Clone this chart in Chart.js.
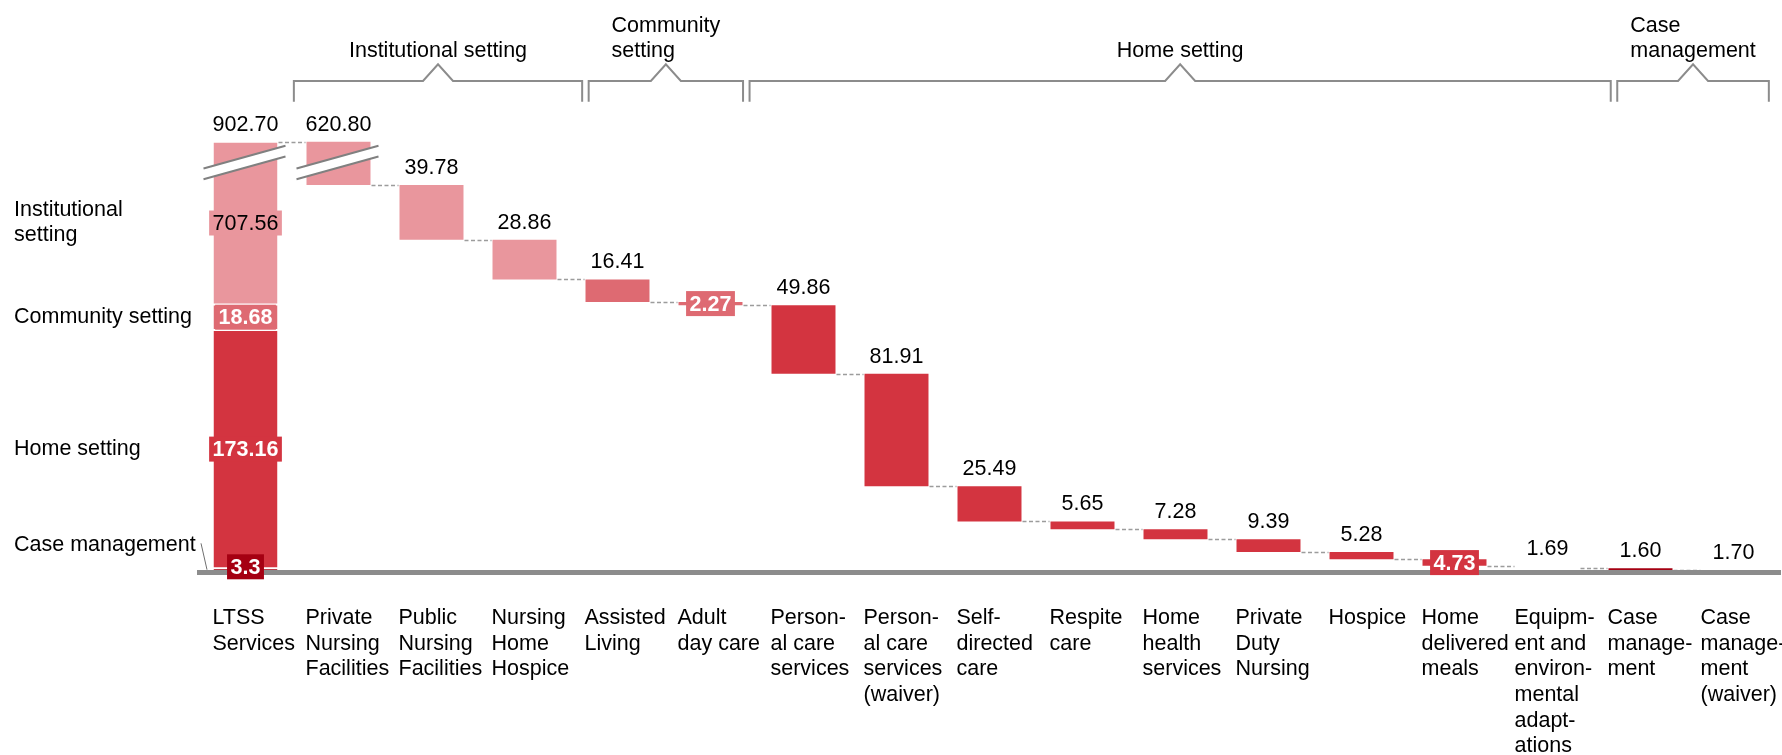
<!DOCTYPE html>
<html>
<head>
<meta charset="utf-8">
<title>LTSS spending by service</title>
<script src="https://cdn.jsdelivr.net/npm/chart.js@4.4.0/dist/chart.umd.min.js"></script>
<style>
  html, body { margin: 0; padding: 0; background: #fff; }
  #wrap { position: relative; width: 1782px; height: 755px; }
</style>
</head>
<body>
<div id="wrap"><canvas id="ltss-chart"></canvas></div>
<script>
// Column names, wrapped the way they sit under the axis
const categories = [
  ['LTSS', 'Services'],
  ['Private', 'Nursing', 'Facilities'],
  ['Public', 'Nursing', 'Facilities'],
  ['Nursing', 'Home', 'Hospice'],
  ['Assisted', 'Living'],
  ['Adult', 'day care'],
  ['Person-', 'al care', 'services'],
  ['Person-', 'al care', 'services', '(waiver)'],
  ['Self-', 'directed', 'care'],
  ['Respite', 'care'],
  ['Home', 'health', 'services'],
  ['Private', 'Duty', 'Nursing'],
  ['Hospice'],
  ['Home', 'delivered', 'meals'],
  ['Equipm-', 'ent and', 'environ-', 'mental', 'adapt-', 'ations'],
  ['Case', 'manage-', 'ment'],
  ['Case', 'manage-', 'ment', '(waiver)']
];

// Setting of each column (the first one is the total)
const columnSetting = [
  'Total',
  'Institutional setting', 'Institutional setting', 'Institutional setting',
  'Community setting', 'Community setting',
  'Home setting', 'Home setting', 'Home setting', 'Home setting', 'Home setting',
  'Home setting', 'Home setting', 'Home setting', 'Home setting',
  'Case management', 'Case management'
];

// Spending per column; first value is the LTSS total
const values = [902.70, 620.80, 39.78, 28.86, 16.41, 2.27, 49.86, 81.91, 25.49,
                5.65, 7.28, 9.39, 5.28, 4.73, 1.69, 1.60, 1.70];

// Split of the total bar, bottom to top
const totalParts = ['Case management', 'Home setting', 'Community setting', 'Institutional setting'];
const totalPartValues = [3.3, 173.16, 18.68, 707.56];

// Brackets over the columns
const groupTitles = [['Institutional setting'], ['Community', 'setting'], ['Home setting'], ['Case', 'management']];
const sideTitles = [['Case management'], ['Home setting'], ['Community setting'], ['Institutional', 'setting']];

// ---- look ----
const FONT = "'Liberation Sans', Arial, Helvetica, sans-serif";
const SIZE = '21.5px ';
const settingColors = {
  'Institutional setting': '#E9969D',
  'Community setting': '#DE6A72',
  'Home setting': '#D33440',
  'Case management': '#A50012'
};
const blankBars = [14];                  // equipment column is left without fill
const boxedLabels = [5, 13];             // values written on the bar, not above it
const bracketSpans = [[0.52, 3.62], [3.69, 5.35], [5.42, 14.68], [14.75, 16.38]];

// the value axis is cut between these levels
const breakAt = 298.5;
const breakGap = 589.2;
const shown = v => (v > breakAt ? v - breakGap : v);

// running level of the waterfall
const tops = [], bottoms = [];
let level = values[0];
values.forEach((v, i) => {
  if (i === 0) { tops.push(v); bottoms.push(0); return; }
  tops.push(level);
  level -= v;
  bottoms.push(level);
});

const stepData = values.map((v, i) => (i === 0 ? null : [shown(bottoms[i]), shown(tops[i])]));
const stepColors = columnSetting.map((s, i) =>
  blankBars.includes(i) ? 'rgba(255,255,255,0)' : (settingColors[s] || '#ccc'));

let acc = 0;
const totalDatasets = totalParts.map((name, k) => {
  const lo = acc;
  acc += totalPartValues[k];
  const data = categories.map((c, i) => (i === 0 ? [shown(lo), shown(acc)] : null));
  return {
    label: name,
    data,
    backgroundColor: settingColors[name],
    borderColor: '#ffffff',
    borderWidth: { top: 1, bottom: 1, left: 0, right: 0 },
    borderSkipped: false
  };
});

function boxLabel(ctx, text, cx, cy, fill, color, bold) {
  ctx.font = (bold ? 'bold ' : '') + SIZE + FONT;
  const w = ctx.measureText(text).width + 7;
  const h = 25;
  ctx.fillStyle = fill;
  ctx.fillRect(cx - w / 2, cy - h / 2, w, h);
  ctx.fillStyle = color;
  ctx.textAlign = 'center';
  ctx.textBaseline = 'middle';
  ctx.fillText(text, cx, cy + 1);
}

const waterfallDecor = {
  id: 'waterfallDecor',
  beforeDatasetsDraw(chart) {
    const { ctx } = chart;
    const xs = chart.scales.x, ys = chart.scales.y;
    const half = chart.getDatasetMeta(0).data[1].width / 2;
    // dashed steps between neighbouring bars
    ctx.save();
    ctx.strokeStyle = '#9c9c9c';
    ctx.lineWidth = 1.5;
    ctx.setLineDash([4, 2.5]);
    for (let i = 0; i < values.length - 1; i++) {
      const lvl = i === 0 ? values[0] : bottoms[i];
      const py = Math.round(ys.getPixelForValue(shown(lvl))) + 0.5;
      ctx.beginPath();
      ctx.moveTo(xs.getPixelForValue(i) + half + 1, py);
      ctx.lineTo(xs.getPixelForValue(i + 1) - half - 1, py);
      ctx.stroke();
    }
    ctx.restore();
  },
  afterDraw(chart) {
    const { ctx } = chart;
    const xs = chart.scales.x, ys = chart.scales.y;
    const half = chart.getDatasetMeta(0).data[1].width / 2;
    const base = ys.getPixelForValue(0);
    ctx.save();

    // axis cut marks on the two tall bars
    const cy = ys.getPixelForValue(breakAt);
    [0, 1].forEach(i => {
      const cx = xs.getPixelForValue(i);
      const x0 = cx - half - 10, x1 = cx + half + 8;
      const slope = -0.277;
      const yAt = (x, off) => cy + off + slope * (x - cx);
      ctx.fillStyle = '#ffffff';
      ctx.beginPath();
      ctx.moveTo(x0, yAt(x0, -5.4));
      ctx.lineTo(x1, yAt(x1, -5.4));
      ctx.lineTo(x1, yAt(x1, 5.4));
      ctx.lineTo(x0, yAt(x0, 5.4));
      ctx.closePath();
      ctx.fill();
      ctx.strokeStyle = '#808080';
      ctx.lineWidth = 2;
      [-5.4, 5.4].forEach(off => {
        ctx.beginPath();
        ctx.moveTo(x0, yAt(x0, off));
        ctx.lineTo(x1, yAt(x1, off));
        ctx.stroke();
      });
    });

    // values of the waterfall steps
    values.forEach((v, i) => {
      const cx = xs.getPixelForValue(i);
      const text = v.toFixed(2);
      const topPx = ys.getPixelForValue(shown(tops[i]));
      if (boxedLabels.includes(i)) {
        const mid = (topPx + ys.getPixelForValue(shown(bottoms[i]))) / 2;
        boxLabel(ctx, text, cx, mid, settingColors[columnSetting[i]], '#ffffff', true);
      } else {
        ctx.font = SIZE + FONT;
        ctx.fillStyle = '#000';
        ctx.textAlign = 'center';
        ctx.textBaseline = 'alphabetic';
        ctx.fillText(text, cx, topPx - 11);
      }
    });

    // values inside the total bar, and the setting names beside it
    let lo = 0;
    const cx0 = xs.getPixelForValue(0);
    totalPartValues.forEach((v, k) => {
      const a = ys.getPixelForValue(shown(lo));
      const b = ys.getPixelForValue(shown(lo + v));
      lo += v;
      let mid = (a + b) / 2;
      const name = totalParts[k];
      let labelY = mid;
      if (k === 0) {
        mid = Math.min(mid, base + 6.6 - 12.5);
        labelY = mid - 22;
      }
      const dark = name === 'Institutional setting';
      boxLabel(ctx, String(v), cx0, mid, settingColors[name], dark ? '#000' : '#fff', !dark);

      const lines = sideTitles[k];
      ctx.font = SIZE + FONT;
      ctx.fillStyle = '#000';
      ctx.textAlign = 'left';
      ctx.textBaseline = 'middle';
      lines.forEach((ln, j) => {
        ctx.fillText(ln, 14, labelY + (j - (lines.length - 1) / 2) * 25);
      });
      if (k === 0) {
        ctx.strokeStyle = '#6f6f6f';
        ctx.lineWidth = 1;
        ctx.beginPath();
        ctx.moveTo(201, labelY - 1.5);
        ctx.lineTo(207, base - 3);
        ctx.stroke();
      }
    });

    // column names, left aligned with the bars
    ctx.font = SIZE + FONT;
    ctx.fillStyle = '#000';
    ctx.textAlign = 'left';
    ctx.textBaseline = 'alphabetic';
    categories.forEach((lines, i) => {
      const left = xs.getPixelForValue(i) - half - 1;
      lines.forEach((ln, j) => ctx.fillText(ln, left, base + 51.5 + j * 25.6));
    });

    // brackets and setting titles across the top
    ctx.strokeStyle = '#8c8c8c';
    ctx.lineWidth = 2;
    ctx.setLineDash([]);
    bracketSpans.forEach(([s, e], g) => {
      const l = xs.getPixelForValue(s), r = xs.getPixelForValue(e);
      const c = (l + r) / 2;
      ctx.beginPath();
      ctx.moveTo(l, 101.7);
      ctx.lineTo(l, 81);
      ctx.lineTo(c - 15, 81);
      ctx.lineTo(c, 64.3);
      ctx.lineTo(c + 15, 81);
      ctx.lineTo(r, 81);
      ctx.lineTo(r, 101.7);
      ctx.stroke();

      const lines = groupTitles[g];
      ctx.font = SIZE + FONT;
      const w = Math.max(...lines.map(t => ctx.measureText(t).width));
      ctx.fillStyle = '#000';
      ctx.textAlign = 'left';
      ctx.textBaseline = 'alphabetic';
      lines.forEach((ln, j) => {
        ctx.fillText(ln, c - w / 2, 56.5 - (lines.length - 1 - j) * 25);
      });
    });

    ctx.restore();
  }
};

const ctx = document.getElementById('ltss-chart').getContext('2d');
const ltssChart = new Chart(ctx, {
  type: 'bar',
  data: {
    labels: categories,
    datasets: [
      {
        label: 'Services',
        data: stepData,
        backgroundColor: stepColors,
        borderWidth: 0
      },
      ...totalDatasets
    ]
  },
  options: {
    responsive: true,
    maintainAspectRatio: false,
    animation: false,
    layout: { padding: { left: 199, right: 2, top: 0, bottom: 182.3 } },
    datasets: {
      bar: { grouped: false, barPercentage: 0.688, categoryPercentage: 1 }
    },
    plugins: {
      legend: { display: false },
      tooltip: { enabled: false }
    },
    scales: {
      x: {
        offset: true,
        z: 1,
        grid: { display: false, drawTicks: false },
        ticks: { display: false },
        // axis line sits over the bar feet
        border: { display: true, color: '#8c8c8c', width: 5, z: 1 }
      },
      y: {
        display: false,
        min: 0,
        max: 416.5
      }
    }
  },
  plugins: [waterfallDecor]
});
</script>
</body>
</html>
